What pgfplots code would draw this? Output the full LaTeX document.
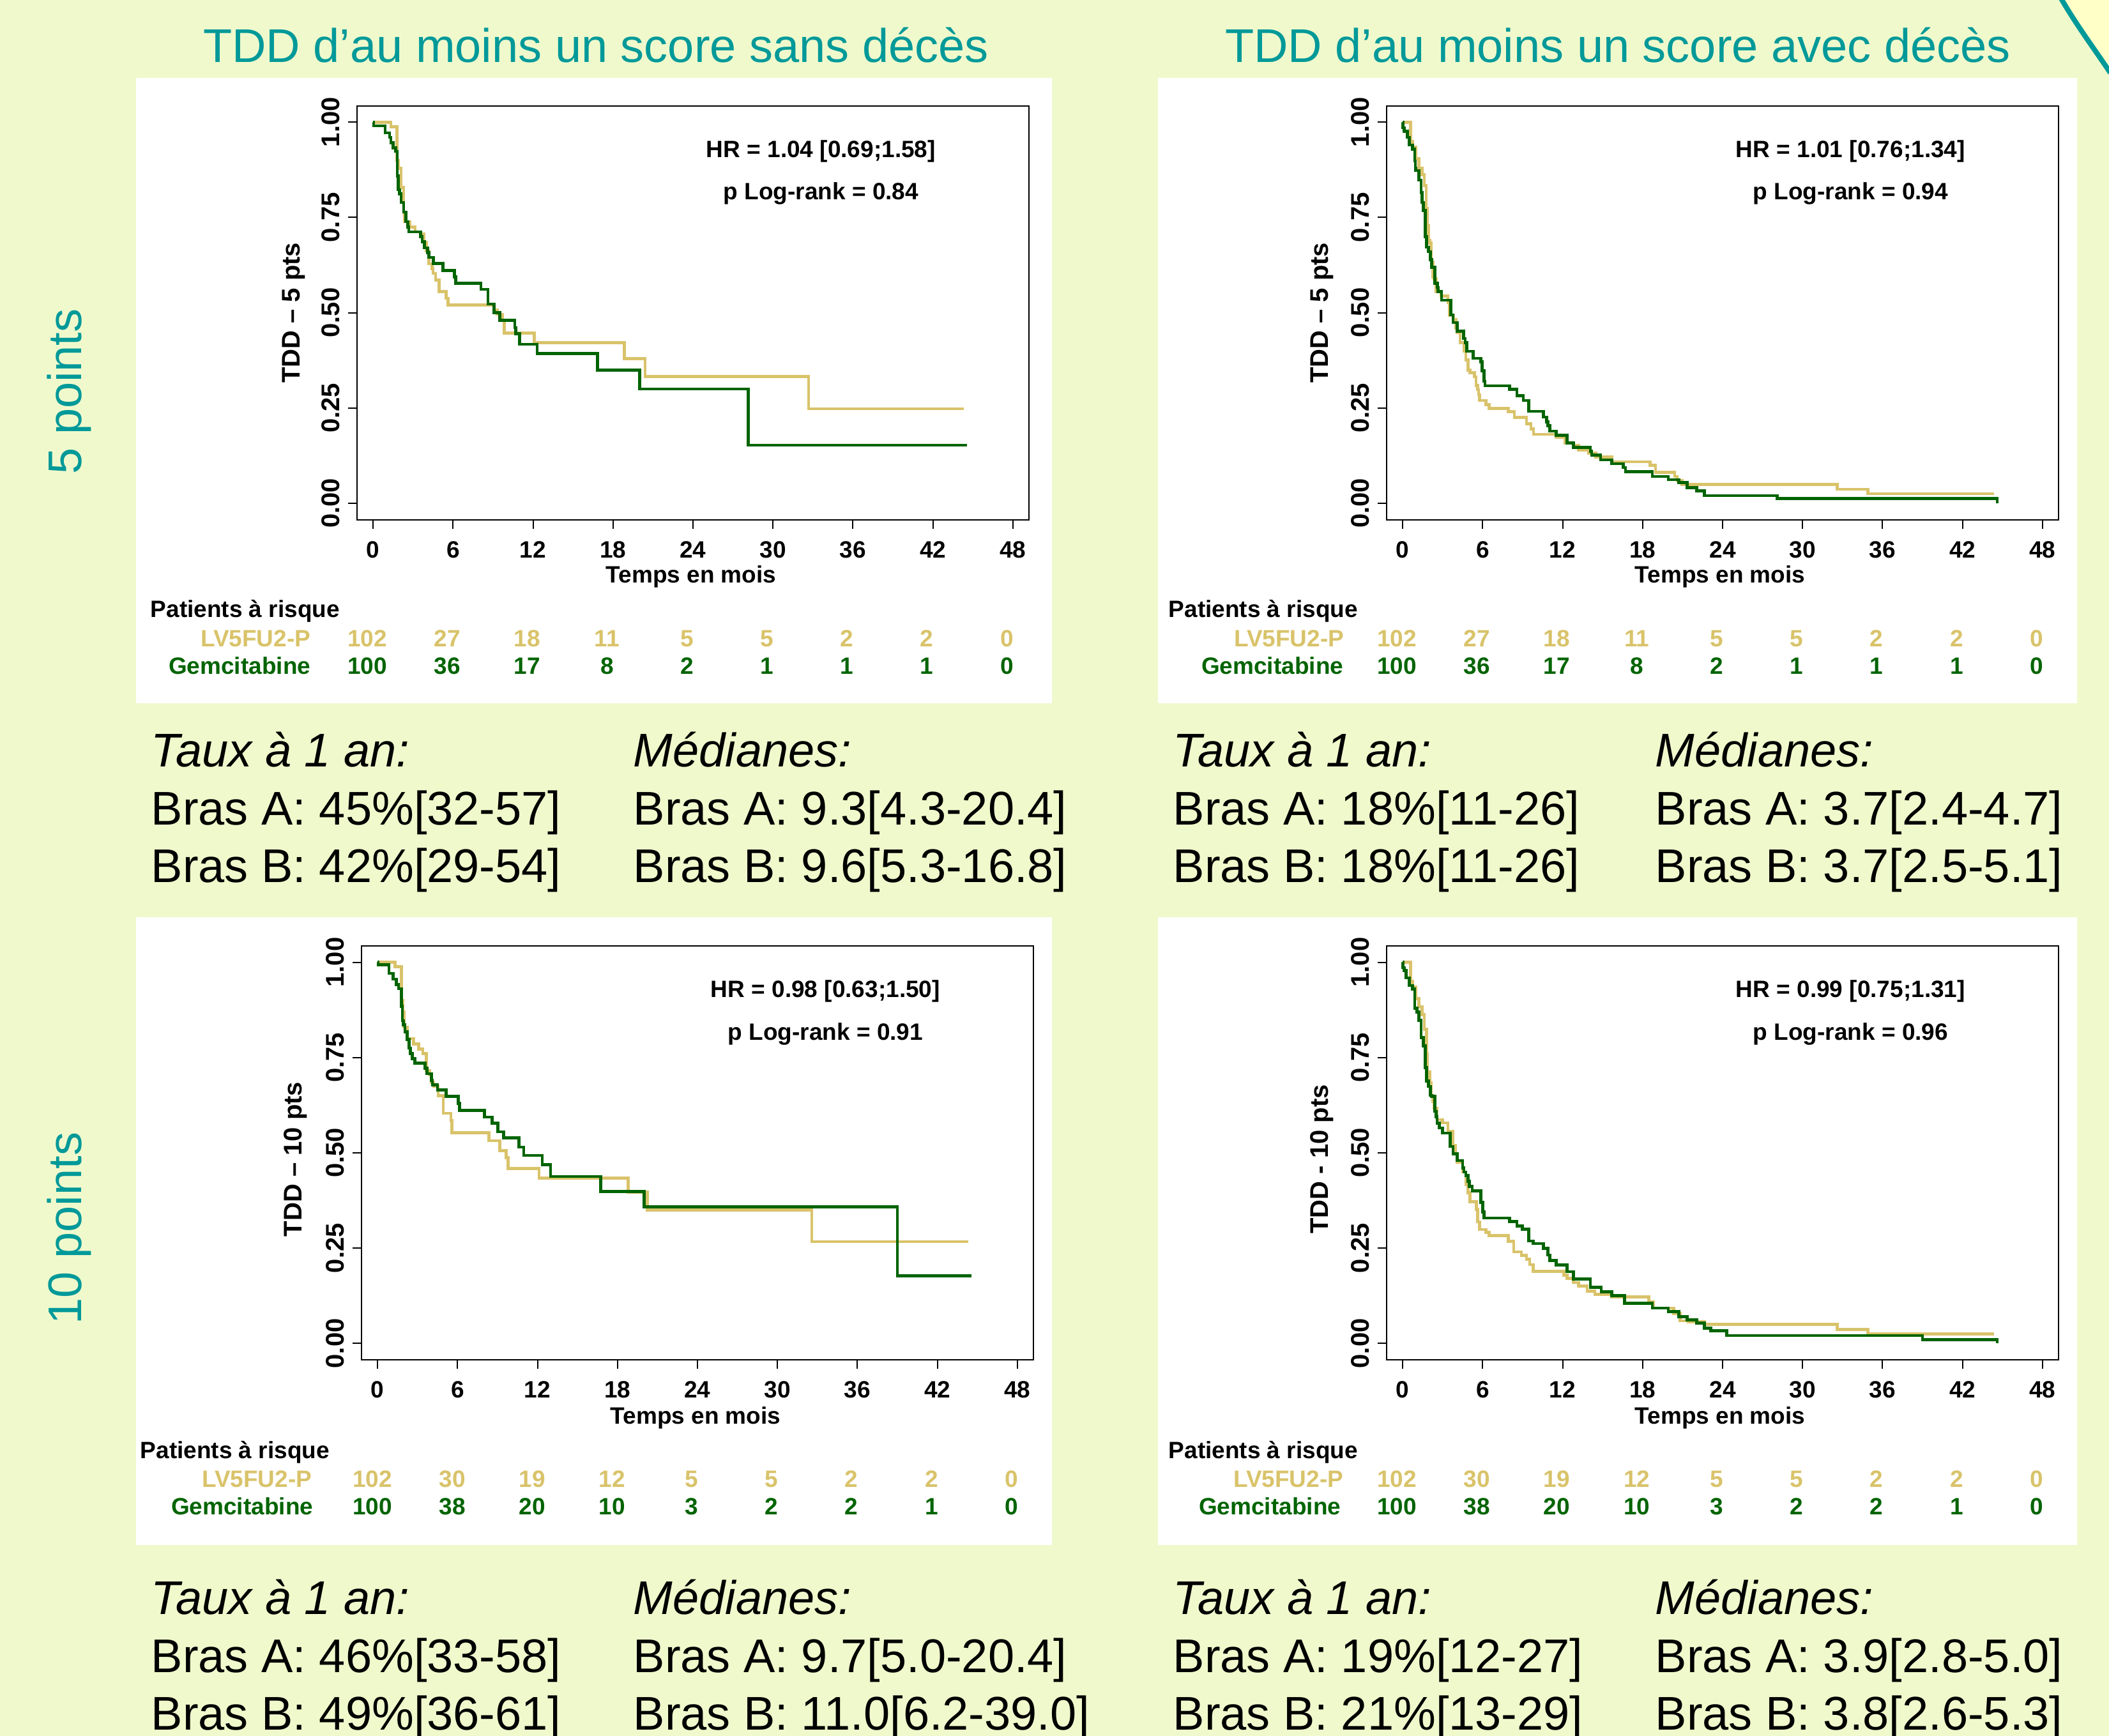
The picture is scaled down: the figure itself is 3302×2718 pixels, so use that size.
\documentclass[border=0pt]{standalone}
\usepackage{pgfplots}
\pgfplotsset{compat=1.18}
\usepackage{fontspec}
\setmainfont{Liberation Sans}
\definecolor{bg}{RGB}{240,249,204}
\definecolor{gold}{RGB}{217,195,106}
\definecolor{dgreen}{RGB}{0,100,0}
\definecolor{tealT}{RGB}{0,153,153}
\definecolor{lyel}{RGB}{255,255,200}
\newcommand{\BigT}{\fontsize{18.5pt}{22pt}\selectfont}
\newcommand{\Rf}{\fontsize{9.25pt}{11pt}\selectfont\bfseries}
\newcommand{\Ry}{\fontsize{10pt}{12pt}\selectfont\bfseries}
\pgfplotsset{kmaxis/.style={
  scale only axis, width=263pt, height=162pt,
  anchor=south west,
  xmin=-1.2, xmax=49.2, ymin=-0.043, ymax=1.043,
  axis line style={line width=0.5pt},
  xtick={0,6,12,18,24,30,36,42,48},
  ytick={0,0.25,0.5,0.75,1},
  yticklabels={0.00,0.25,0.50,0.75,1.00},
  tick align=outside, major tick length=3.5pt,
  tick style={line width=0.5pt, black},
  tick pos=left,
  xticklabel style={font=\Rf, yshift=-1.5pt},
  yticklabel style={font=\Ry, xshift=-3.5pt, rotate=90, anchor=base},
  /pgf/number format/assume math mode=true,
  clip=false,
}}
\begin{document}
\begin{tikzpicture}[x=0.25pt,y=0.25pt]
\useasboundingbox (0,0) rectangle (3302,2718);
\fill[bg] (0,0) rectangle (3302,2718);
% corner decoration
\fill[lyel] (3226,2718) .. controls (3250,2680) and (3280,2640) .. (3302,2606) -- (3302,2718) -- cycle;
\draw[tealT, line width=2pt] (3226,2722) .. controls (3250,2680) and (3280,2640) .. (3304,2604);
% white panels
\fill[white] (213,1617) rectangle (1647,2596);
\fill[white] (1813,1617) rectangle (3252,2596);
\fill[white] (213,299) rectangle (1647,1282);
\fill[white] (1813,299) rectangle (3252,1282);
% titles
\node[tealT, font=\BigT, anchor=base] at (933,2620) {TDD d’au moins un score sans décès};
\node[tealT, font=\BigT, anchor=base] at (2533,2620) {TDD d’au moins un score avec décès};
\node[tealT, font=\BigT, rotate=90] at (108,2105) {5 points};
\node[tealT, font=\BigT, rotate=90] at (108,795) {10 points};

% ---------------- Panel 1
\begin{axis}[kmaxis, at={(139.75pt,476.1pt)}]
\addplot[const plot, gold, line width=1.15pt] coordinates {
(0,1) (1.33,0.988) (1.8,0.90) (1.9,0.879) (2.1,0.829) (2.29,0.762) (2.36,0.739) (2.77,0.725) (3.16,0.712) (3.55,0.706) (3.8,0.685) (4.0,0.662) (4.2,0.628) (4.44,0.616) (4.5,0.603) (4.7,0.586) (4.95,0.555) (5.48,0.538) (5.64,0.520) (9.08,0.5075) (9.32,0.496) (9.72,0.479) (9.84,0.4466) (12.1,0.4216) (18.84,0.379) (20.4,0.333) (32.67,0.248) (44.33,0.248)};
\addplot[const plot, dgreen, line width=1.15pt] coordinates {
(0,1) (0.05,0.99) (0.9,0.972) (1.25,0.96) (1.33,0.946) (1.5,0.932) (1.7,0.923) (1.81,0.859) (1.9,0.823) (2.0,0.812) (2.1,0.789) (2.3,0.764) (2.46,0.739) (2.6,0.725) (2.68,0.712) (3.56,0.700) (3.68,0.686) (3.84,0.670) (4.1,0.658) (4.2,0.645) (4.52,0.629) (5.24,0.611) (6.12,0.594) (6.2,0.577) (8.09,0.561) (8.63,0.523) (9.08,0.500) (9.51,0.480) (10.64,0.461) (10.7,0.445) (10.98,0.417) (12.31,0.393) (16.84,0.349) (20.0,0.300) (28.15,0.1525) (44.55,0.1525)};
\node[font=\Rf] at (axis cs:33.6,0.924) {HR = 1.04 [0.69;1.58]};
\node[font=\Rf] at (axis cs:33.6,0.812) {p Log-rank = 0.84};
\end{axis}
% ---------------- Panel 2
\begin{axis}[kmaxis, at={(542.75pt,476.1pt)}]
\addplot[const plot, gold, line width=1.15pt] coordinates {
(0,1) (0.59,0.949) (0.75,0.935) (0.99,0.904) (1.23,0.879) (1.47,0.862) (1.63,0.834) (1.76,0.773) (1.85,0.728) (1.95,0.689) (2.04,0.683) (2.12,0.639) (2.2,0.633) (2.27,0.594) (2.35,0.589) (2.5,0.555) (2.9,0.544) (3.4,0.527) (3.5,0.493) (3.8,0.482) (4.0,0.460) (4.1,0.448) (4.3,0.421) (4.6,0.40) (4.74,0.376) (4.9,0.349) (5.06,0.343) (5.4,0.332) (5.5,0.309) (5.62,0.298) (5.7,0.285) (5.78,0.270) (6.26,0.259) (6.5,0.249) (7.94,0.240) (8.38,0.225) (9.3,0.209) (9.62,0.195) (9.81,0.181) (11.53,0.1725) (12.17,0.158) (12.81,0.152) (13.2,0.139) (13.93,0.131) (14.49,0.121) (15.69,0.1086) (18.56,0.100) (18.96,0.081) (20.4,0.07) (20.6,0.059) (20.95,0.0497) (32.6,0.037) (34.9,0.025) (44.37,0.025)};
\addplot[const plot, dgreen, line width=1.15pt] coordinates {
(0,1) (0.03,0.985) (0.11,0.976) (0.35,0.960) (0.51,0.940) (0.75,0.929) (0.91,0.898) (0.95,0.879) (0.99,0.873) (1.23,0.848) (1.39,0.815) (1.47,0.789) (1.55,0.768) (1.71,0.700) (1.79,0.672) (1.95,0.66) (2.07,0.639) (2.19,0.619) (2.43,0.577) (2.6,0.566) (2.67,0.555) (2.91,0.533) (3.6,0.494) (3.79,0.474) (4.1,0.452) (4.58,0.432) (4.7,0.421) (4.82,0.399) (5.3,0.380) (5.86,0.371) (5.95,0.348) (6.1,0.320) (6.18,0.308) (8.02,0.299) (8.58,0.282) (9.06,0.270) (9.46,0.241) (10.57,0.226) (10.81,0.214) (10.9,0.203) (11.05,0.189) (11.53,0.178) (12.33,0.158) (12.81,0.146) (14.09,0.136) (14.17,0.126) (14.85,0.114) (15.69,0.104) (16.56,0.094) (16.72,0.0833) (18.72,0.0703) (19.92,0.0620) (20.72,0.054) (21.35,0.0414) (22.07,0.033) (22.63,0.0200) (28.1,0.012) (44.6,0.0)};
\node[font=\Rf] at (axis cs:33.6,0.924) {HR = 1.01 [0.76;1.34]};
\node[font=\Rf] at (axis cs:33.6,0.812) {p Log-rank = 0.94};
\end{axis}
% ---------------- Panel 3
\begin{axis}[kmaxis, at={(141.5pt,147.25pt)}]
\addplot[const plot, gold, line width=1.15pt] coordinates {
(0,1) (1.31,0.988) (1.79,0.90) (1.9,0.87) (2.0,0.83) (2.22,0.800) (2.7,0.786) (3.1,0.772) (3.39,0.761) (3.66,0.716) (3.9,0.705) (4.06,0.685) (4.22,0.675) (4.54,0.650) (4.94,0.604) (5.5,0.585) (5.58,0.553) (8.35,0.532) (9.18,0.506) (9.66,0.487) (9.79,0.459) (12.11,0.434) (18.81,0.3965) (20.24,0.3497) (32.57,0.2669) (44.29,0.2669)};
\addplot[const plot, dgreen, line width=1.15pt] coordinates {
(0,1) (0.05,0.994) (0.86,0.971) (1.18,0.956) (1.42,0.942) (1.58,0.931) (1.79,0.885) (1.86,0.847) (1.95,0.836) (2.06,0.818) (2.22,0.797) (2.38,0.775) (2.46,0.761) (2.62,0.747) (2.81,0.735) (3.58,0.722) (3.71,0.708) (4.06,0.690) (4.12,0.678) (4.51,0.665) (5.15,0.648) (6.06,0.630) (6.14,0.611) (8.03,0.594) (8.59,0.578) (9.02,0.555) (9.45,0.539) (10.6,0.515) (10.97,0.493) (12.35,0.469) (12.99,0.438) (16.73,0.3987) (20.01,0.358) (39.0,0.1776) (44.55,0.1776)};
\node[font=\Rf] at (axis cs:33.6,0.924) {HR = 0.98 [0.63;1.50]};
\node[font=\Rf] at (axis cs:33.6,0.812) {p Log-rank = 0.91};
\end{axis}
% ---------------- Panel 4
\begin{axis}[kmaxis, at={(542.75pt,147.25pt)}]
\addplot[const plot, gold, line width=1.15pt] coordinates {
(0,1) (0.59,0.95) (0.75,0.936) (0.99,0.905) (1.23,0.883) (1.47,0.863) (1.63,0.824) (1.79,0.76) (1.87,0.712) (2.03,0.684) (2.15,0.651) (2.27,0.634) (2.35,0.617) (2.59,0.587) (2.99,0.579) (3.39,0.556) (3.79,0.52) (3.95,0.497) (4.1,0.475) (4.5,0.45) (4.74,0.417) (4.9,0.395) (5.06,0.372) (5.54,0.352) (5.62,0.319) (5.78,0.299) (6.26,0.291) (6.5,0.2826) (7.94,0.268) (8.34,0.240) (8.9,0.231) (9.3,0.221) (9.54,0.207) (9.78,0.189) (12.09,0.1795) (12.33,0.171) (12.81,0.160) (13.21,0.151) (13.85,0.137) (14.41,0.129) (15.69,0.122) (18.48,0.109) (18.8,0.0927) (20.32,0.0788) (20.8,0.0592) (21.43,0.0564) (22.63,0.050) (32.6,0.037) (34.9,0.025) (44.37,0.025)};
\addplot[const plot, dgreen, line width=1.15pt] coordinates {
(0,1) (0.03,0.986) (0.11,0.978) (0.27,0.959) (0.51,0.939) (0.75,0.930) (0.91,0.880) (1.07,0.870) (1.23,0.848) (1.39,0.802) (1.55,0.781) (1.71,0.724) (1.79,0.688) (1.95,0.674) (2.07,0.651) (2.19,0.648) (2.43,0.609) (2.5,0.595) (2.59,0.578) (2.75,0.565) (2.99,0.552) (3.58,0.517) (3.79,0.497) (4.1,0.480) (4.5,0.461) (4.6,0.45) (4.74,0.44) (4.9,0.425) (5.0,0.412) (5.22,0.400) (5.86,0.37) (6.0,0.345) (6.1,0.329) (8.02,0.320) (8.58,0.308) (8.98,0.300) (9.46,0.269) (9.78,0.262) (10.57,0.249) (10.89,0.232) (11.05,0.218) (11.53,0.206) (12.33,0.188) (12.81,0.169) (14.09,0.147) (14.89,0.135) (15.69,0.125) (16.64,0.1056) (18.72,0.0928) (19.92,0.0832) (20.72,0.0703) (21.35,0.0621) (22.07,0.0536) (22.63,0.0397) (23.11,0.033) (24.31,0.0207) (39.0,0.0098) (44.6,0.0)};
\node[font=\Rf] at (axis cs:33.6,0.924) {HR = 0.99 [0.75;1.31]};
\node[font=\Rf] at (axis cs:33.6,0.812) {p Log-rank = 0.96};
\end{axis}

% axis labels
\node[font=\Ry, rotate=90] at (460,2228) {TDD – 5 pts};
\node[font=\Ry, rotate=90] at (2070,2228) {TDD – 5 pts};
\node[font=\Ry, rotate=90] at (463,903) {TDD – 10 pts};
\node[font=\Ry, rotate=90] at (2070,903) {TDD - 10 pts};
\node[font=\Rf, anchor=base] at (1082,1805) {Temps en mois};
\node[font=\Rf, anchor=base] at (2693,1805) {Temps en mois};
\node[font=\Rf, anchor=base] at (1089,488) {Temps en mois};
\node[font=\Rf, anchor=base] at (2693,488) {Temps en mois};

% risk tables
\node[font=\Rf, anchor=base west, inner sep=0pt] at (235,1751) {Patients à risque};
\node[font=\Rf, anchor=base east, inner sep=0pt, gold] at (487,1705) {LV5FU2-P};
\node[font=\Rf, anchor=base east, inner sep=0pt, dgreen] at (487,1662) {Gemcitabine};
\foreach \n [count=\i from 0] in {102,27,18,11,5,5,2,2,0}
  \node[font=\Rf, anchor=base, inner sep=0pt, gold] at ({575+125.16*\i},1705) {\n};
\foreach \n [count=\i from 0] in {100,36,17,8,2,1,1,1,0}
  \node[font=\Rf, anchor=base, inner sep=0pt, dgreen] at ({575+125.16*\i},1662) {\n};

\node[font=\Rf, anchor=base west, inner sep=0pt] at (1829,1751) {Patients à risque};
\node[font=\Rf, anchor=base east, inner sep=0pt, gold] at (2105,1705) {LV5FU2-P};
\node[font=\Rf, anchor=base east, inner sep=0pt, dgreen] at (2104,1662) {Gemcitabine};
\foreach \n [count=\i from 0] in {102,27,18,11,5,5,2,2,0}
  \node[font=\Rf, anchor=base, inner sep=0pt, gold] at ({2187+125.2*\i},1705) {\n};
\foreach \n [count=\i from 0] in {100,36,17,8,2,1,1,1,0}
  \node[font=\Rf, anchor=base, inner sep=0pt, dgreen] at ({2187+125.2*\i},1662) {\n};

\node[font=\Rf, anchor=base west, inner sep=0pt] at (219,434) {Patients à risque};
\node[font=\Rf, anchor=base east, inner sep=0pt, gold] at (489,389) {LV5FU2-P};
\node[font=\Rf, anchor=base east, inner sep=0pt, dgreen] at (491,346) {Gemcitabine};
\foreach \n [count=\i from 0] in {102,30,19,12,5,5,2,2,0}
  \node[font=\Rf, anchor=base, inner sep=0pt, gold] at ({583+125.04*\i},389) {\n};
\foreach \n [count=\i from 0] in {100,38,20,10,3,2,2,1,0}
  \node[font=\Rf, anchor=base, inner sep=0pt, dgreen] at ({583+125.04*\i},346) {\n};

\node[font=\Rf, anchor=base west, inner sep=0pt] at (1829,434) {Patients à risque};
\node[font=\Rf, anchor=base east, inner sep=0pt, gold] at (2104,389) {LV5FU2-P};
\node[font=\Rf, anchor=base east, inner sep=0pt, dgreen] at (2100,346) {Gemcitabine};
\foreach \n [count=\i from 0] in {102,30,19,12,5,5,2,2,0}
  \node[font=\Rf, anchor=base, inner sep=0pt, gold] at ({2187+125.2*\i},389) {\n};
\foreach \n [count=\i from 0] in {100,38,20,10,3,2,2,1,0}
  \node[font=\Rf, anchor=base, inner sep=0pt, dgreen] at ({2187+125.2*\i},346) {\n};

% text blocks
\begin{scope}[every node/.style={font=\BigT, anchor=base west, inner sep=0pt}]
\node at (236,1517) {\itshape Taux à 1 an:};
\node at (236,1426) {Bras A: 45\%[32-57]};
\node at (236,1336) {Bras B: 42\%[29-54]};
\node at (991,1517) {\itshape Médianes:};
\node at (991,1426) {Bras A: 9.3[4.3-20.4]};
\node at (991,1336) {Bras B: 9.6[5.3-16.8]};
\node at (1836,1517) {\itshape Taux à 1 an:};
\node at (1836,1426) {Bras A: 18\%[11-26]};
\node at (1836,1336) {Bras B: 18\%[11-26]};
\node at (2591,1517) {\itshape Médianes:};
\node at (2591,1426) {Bras A: 3.7[2.4-4.7]};
\node at (2591,1336) {Bras B: 3.7[2.5-5.1]};
\node at (236,190) {\itshape Taux à 1 an:};
\node at (236,99) {Bras A: 46\%[33-58]};
\node at (236,9) {Bras B: 49\%[36-61]};
\node at (991,190) {\itshape Médianes:};
\node at (991,99) {Bras A: 9.7[5.0-20.4]};
\node at (991,9) {Bras B: 11.0[6.2-39.0]};
\node at (1836,190) {\itshape Taux à 1 an:};
\node at (1836,99) {Bras A: 19\%[12-27]};
\node at (1836,9) {Bras B: 21\%[13-29]};
\node at (2591,190) {\itshape Médianes:};
\node at (2591,99) {Bras A: 3.9[2.8-5.0]};
\node at (2591,9) {Bras B: 3.8[2.6-5.3]};
\end{scope}
\end{tikzpicture}
\end{document}
